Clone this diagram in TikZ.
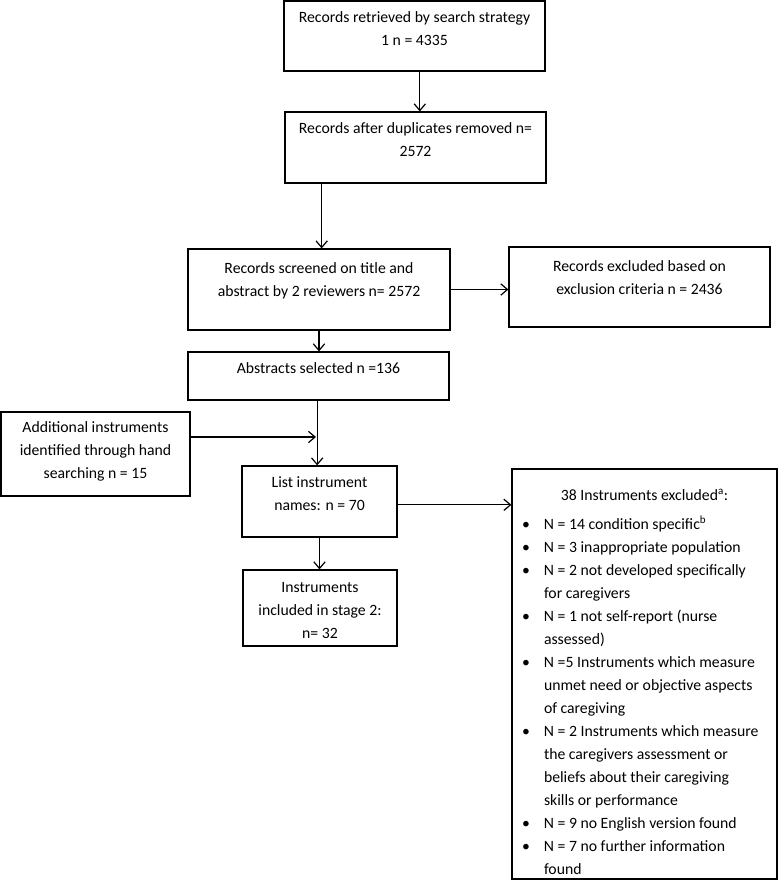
\documentclass[tikz,border=0pt]{standalone}
\usepackage{fontspec}
\setmainfont{Carlito}
\usetikzlibrary{arrows.meta,fit}

\tikzset{every picture/.style={line width=0.9pt}}
\tikzset{
  flowbox/.style={draw, rectangle, inner sep=0pt},
  boxtext/.style={anchor=north, align=center, inner sep=0pt, font=\fontsize{11.8}{17.25}\selectfont},
  listtext/.style={anchor=north west, inner sep=0pt, font=\fontsize{11.8}{17.25}\selectfont},
  flowarrow/.style={-{Straight Barb[length=5pt,width=8.5pt]}}
}

\begin{document}
\begin{tikzpicture}[x=0.75pt,y=0.75pt,yscale=-1,xscale=1]
\useasboundingbox (0,0) rectangle (779,883);

% main column
\node[flowbox, fit={(284,1) (545,71)},
  label={[boxtext,yshift=-8.25pt]north:{Records retrieved by search strategy\\1 n = 4335}}] (retrieved) {};
\node[flowbox, fit={(285,112) (546,183)},
  label={[boxtext,yshift=-8.25pt]north:{Records after duplicates removed n=\\2572}}] (dedup) {};
\node[flowbox, fit={(188,249) (450,330)},
  label={[boxtext,yshift=-10.5pt]north:{Records screened on title and\\abstract by 2 reviewers n= 2572}}] (screened) {};
\node[flowbox, fit={(188,352) (449,400)},
  label={[boxtext,yshift=-8.25pt]north:{Abstracts selected n =136}}] (abstracts) {};
\node[flowbox, fit={(242,466) (397,537)},
  label={[boxtext,yshift=-8.25pt]north:{List instrument\\names: n = 70}}] (namelist) {};
\node[flowbox, fit={(243,570) (397,646)},
  label={[boxtext,yshift=-9pt]north:{Instruments\\included in stage 2:\\n= 32}}] (included) {};

% side boxes
\node[flowbox, fit={(509,247) (770,327)},
  label={[boxtext,yshift=-10.5pt]north:{Records excluded based on\\exclusion criteria n = 2436}}] (recexcl) {};
\node[flowbox, fit={(1,412) (190,496)},
  label={[boxtext,yshift=-7.5pt]north:{Additional instruments\\identified through hand\\searching n = 15}}] (handsearch) {};
\node[flowbox, fit={(512,469) (777,879)},
  label={[boxtext,yshift=-15pt]north:{38 Instruments excluded\textsuperscript{a}:}},
  label={[listtext,xshift=7.5pt,yshift=-33pt]north west:{%
    \begin{tabular}{@{}p{16.5pt}@{}l@{}}
    \textbullet & N = 14 condition specific\textsuperscript{b}\\
    \textbullet & N = 3 inappropriate population\\
    \textbullet & N = 2 not developed specifically\\
                & for caregivers\\
    \textbullet & N = 1 not self-report (nurse\\
                & assessed)\\
    \textbullet & N =5 Instruments which measure\\
                & unmet need or objective aspects\\
                & of caregiving\\
    \textbullet & N = 2 Instruments which measure\\
                & the caregivers assessment or\\
                & beliefs about their caregiving\\
                & skills or performance\\
    \textbullet & N = 9 no English version found\\
    \textbullet & N = 7 no further information\\
                & found
    \end{tabular}}}] (instexcl) {};

\coordinate (handjoin) at (316,437);

% arrows
\draw[flowarrow] ([xshift=4pt]retrieved.south) -- ([xshift=4pt]retrieved.south |- dedup.north);
\draw[flowarrow] ([xshift=2pt]dedup.south -| screened.north) -- ([xshift=2pt]screened.north);
\draw[flowarrow] (screened.east) -- (screened.east -| recexcl.west);
\draw[flowarrow] (screened.south) -- (screened.south |- abstracts.north);
\draw[flowarrow] ([xshift=-1pt]abstracts.south) -- ([xshift=-1pt]abstracts.south |- namelist.north);
\draw[flowarrow] (handsearch.east |- handjoin) -- (handjoin);
\draw[flowarrow] ([yshift=2.5pt]namelist.east) -- ([yshift=2.5pt]namelist.east -| instexcl.west);
\draw[flowarrow] (namelist.south) -- (namelist.south |- included.north);
\end{tikzpicture}
\end{document}
